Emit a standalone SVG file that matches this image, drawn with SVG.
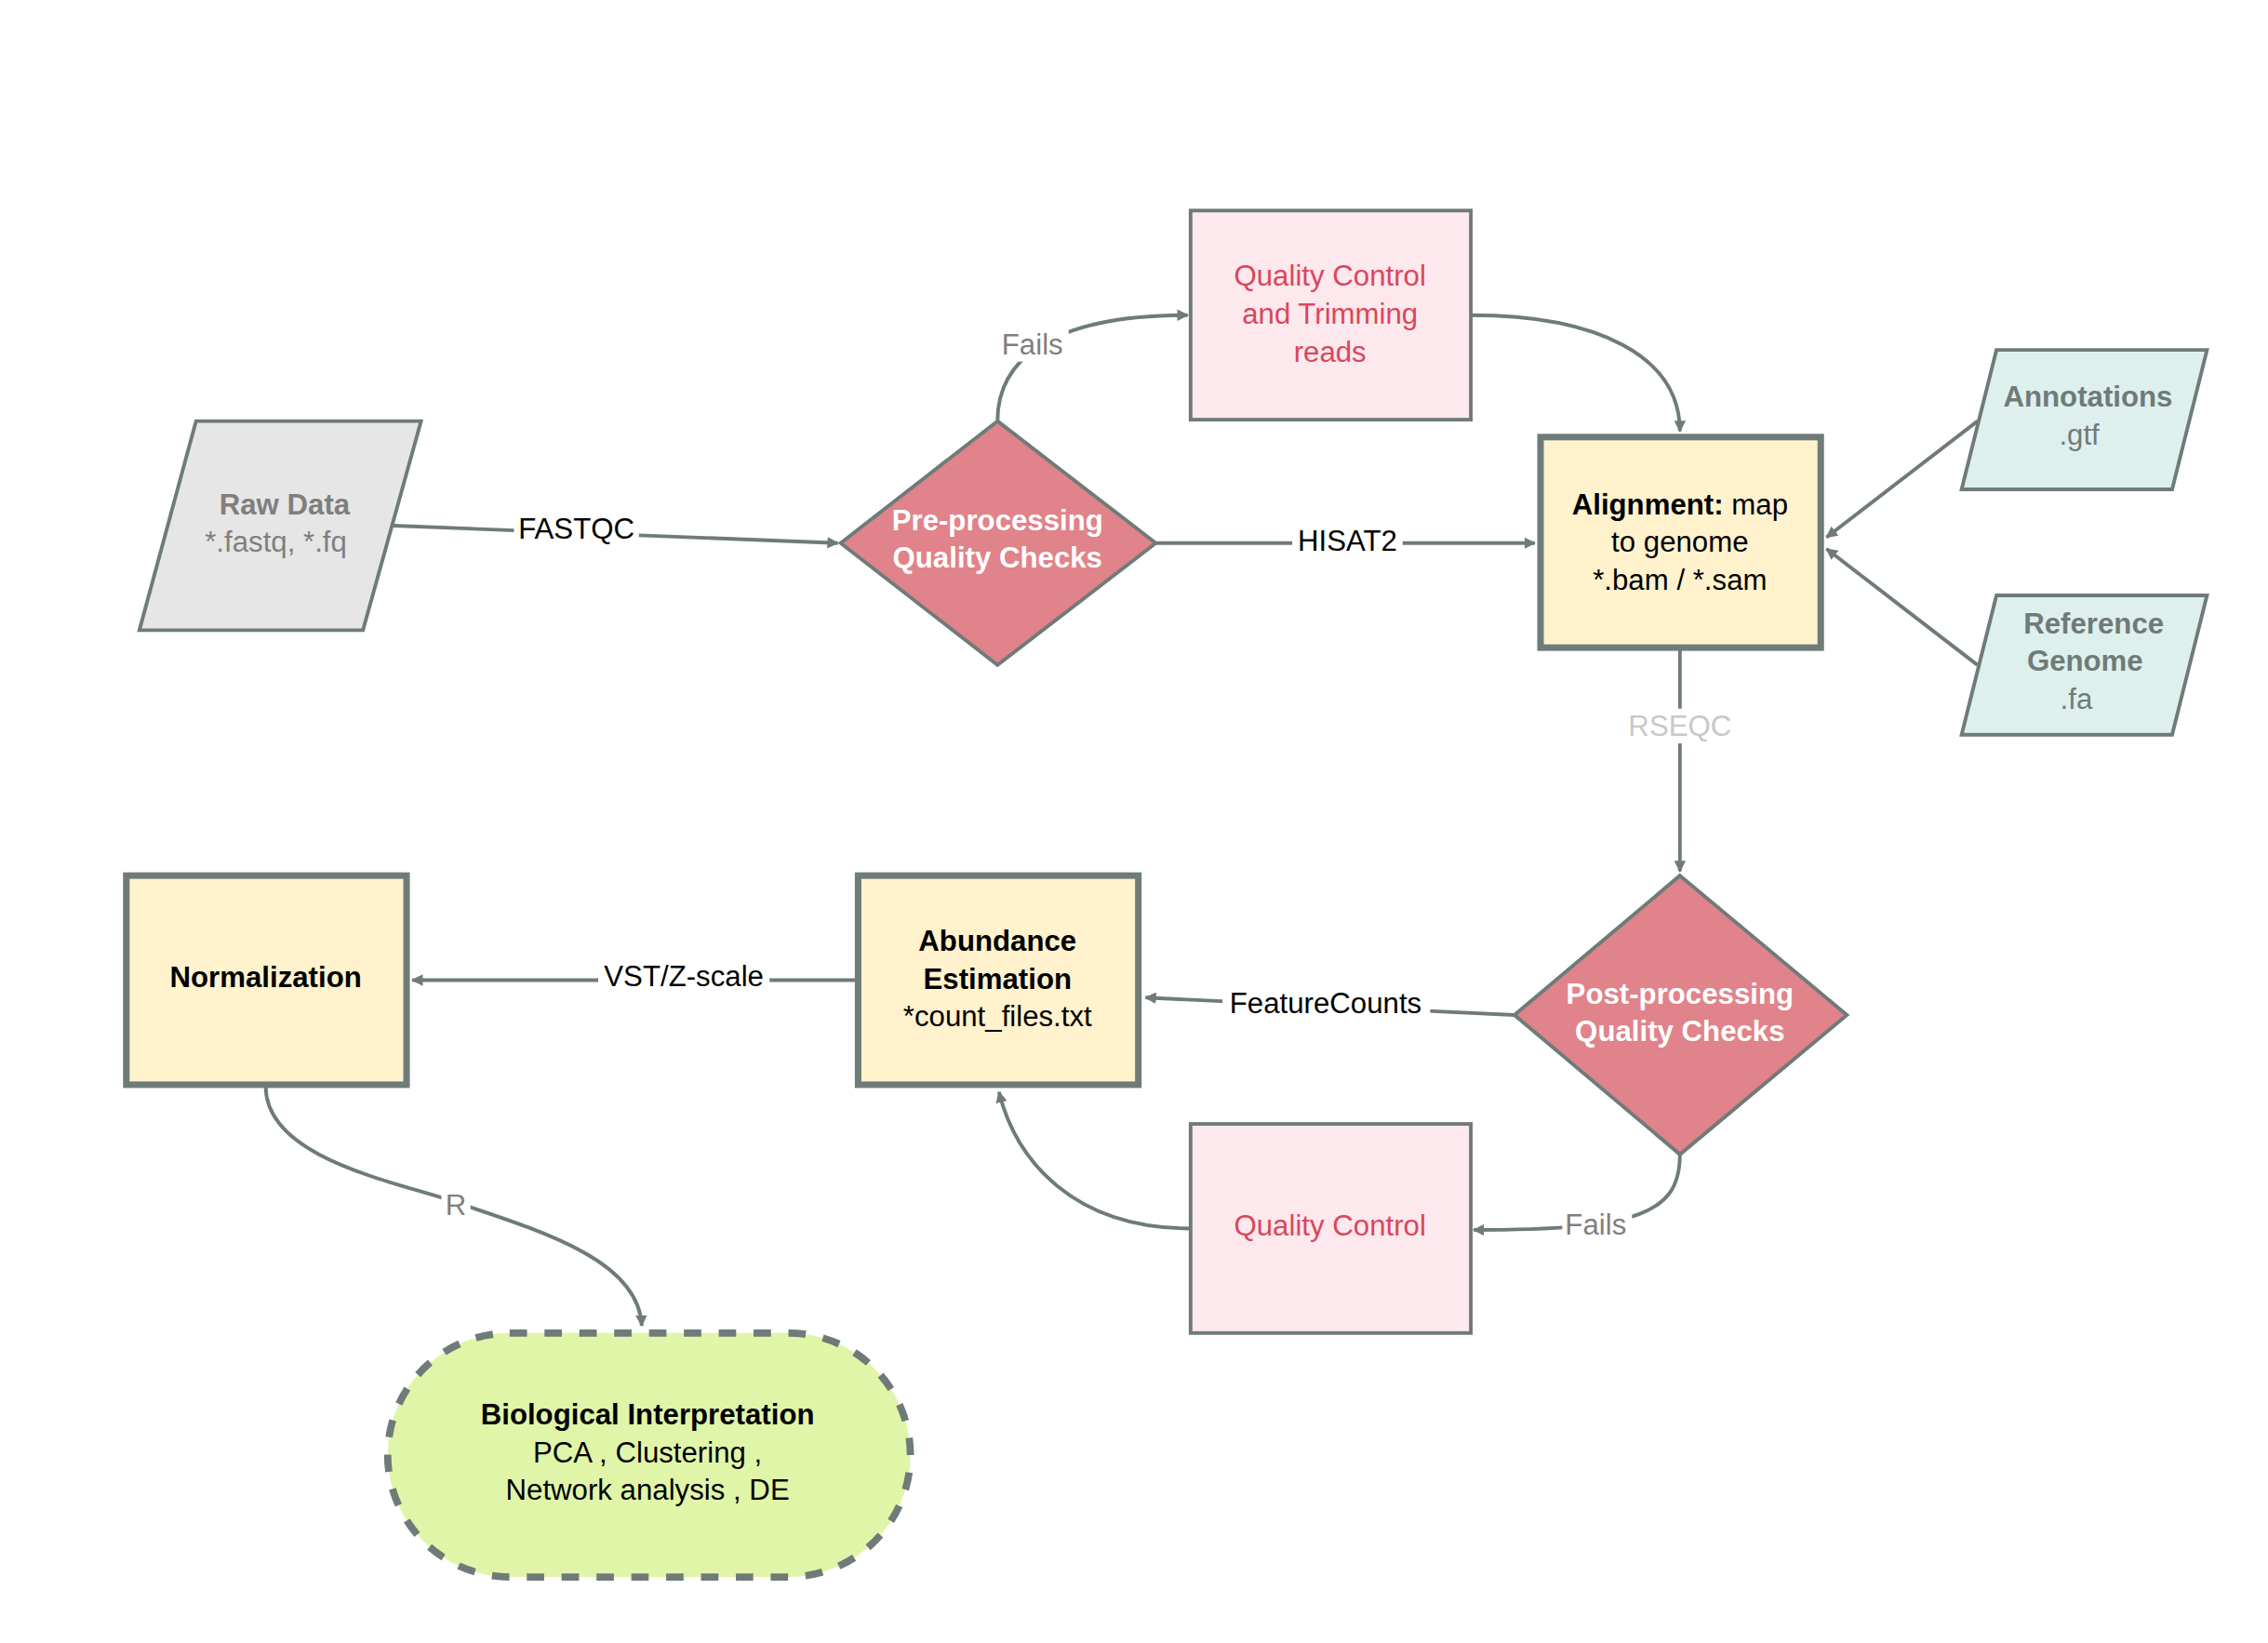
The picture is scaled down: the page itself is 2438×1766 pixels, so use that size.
<svg xmlns="http://www.w3.org/2000/svg" width="2438" height="1766" viewBox="0 0 2438 1766">
<defs>
<marker id="ah" viewBox="0 0 10 10" refX="9" refY="5" markerWidth="8" markerHeight="8" markerUnits="userSpaceOnUse" orient="auto"><path d="M0,0L10,5L0,10z" fill="#6f7b78"/></marker>
<style>
text{font-family:"Liberation Sans",Arial,sans-serif;font-size:20px;text-anchor:middle}
.c{fill:none;stroke:#6f7b78;stroke-width:2.5;marker-end:url(#ah)}
.s{stroke:#6f7b78;stroke-width:2.5}
.t{stroke:#6f7b78;stroke-width:4.5}
.lb{fill:#000}
.b{font-weight:bold}
</style>
</defs>
<rect width="2438" height="1766" fill="#fff"/>
<g transform="scale(1.5608)">
<g id="connectors">
<path class="c" d="M271,362 L577,374"/>
<path class="c" d="M796,374 L1057,374"/>
<path class="c" d="M687,290 C687,250 720,217 818,217"/>
<path class="c" d="M1013,217 C1100,217 1157,245 1157,297"/>
<path class="c" d="M1362,290 L1258,370"/>
<path class="c" d="M1362,458 L1258,378"/>
<path class="c" d="M1157,447 L1157,600"/>
<path class="c" d="M1043,699 L789,687"/>
<path class="c" d="M1157,795 C1157,835 1130,847 1015,847"/>
<path class="c" d="M820,846 C740,846 700,800 688,752"/>
<path class="c" d="M591,675 L284,675"/>
<path class="c" d="M183,748 C183,800 280,815 320,830 C380,850 440,870 442,913"/>
<g>
<rect x="354" y="352" width="86" height="24" fill="#fff"/><text x="397" y="371" class="lb">FASTQC</text>
<rect x="890" y="361" width="76" height="24" fill="#fff"/><text x="928" y="379" class="lb">HISAT2</text>
<rect x="688" y="225" width="48" height="24" fill="#fff"/><text x="711" y="244" fill="#7f7f7f">Fails</text>
<rect x="1117" y="488" width="80" height="24" fill="#fff"/><text x="1157" y="507" fill="#c8c8c8">RSEQC</text>
<rect x="842" y="679" width="143" height="24" fill="#fff"/><text x="913" y="698" class="lb">FeatureCounts</text>
<rect x="1076" y="831" width="48" height="24" fill="#fff"/><text x="1099" y="850" fill="#7f7f7f">Fails</text>
<rect x="412" y="660" width="118" height="24" fill="#fff"/><text x="471" y="679" class="lb">VST/Z-scale</text>
<rect x="304" y="818" width="20" height="24" fill="#fff"/><text x="314" y="837" fill="#7f7f7f">R</text>
</g>
</g>
<g id="raw"><polygon class="s" points="135,290 290,290 250,434 96,434" fill="#e6e6e6"/><text x="196" y="354" fill="#7f7f7f" class="b">Raw Data</text><text x="190" y="380" fill="#7f7f7f">*.fastq, *.fq</text></g>
<g id="pre"><polygon class="s" points="687,290 796,374 687,458 579,374" fill="#e0838a"/><text x="687" y="365" fill="#fff" class="b">Pre-processing</text><text x="687" y="391" fill="#fff" class="b">Quality Checks</text></g>
<g id="qct"><rect class="s" x="820" y="145" width="193" height="144" fill="#fde8ee"/><text x="916" y="197" fill="#d9475a">Quality Control</text><text x="916" y="223" fill="#d9475a">and Trimming</text><text x="916" y="249" fill="#d9475a">reads</text></g>
<g id="align"><rect class="t" x="1061" y="301" width="193" height="145" fill="#fff2cc"/><text x="1157" y="354" class="lb"><tspan class="b">Alignment:</tspan> map</text><text x="1157" y="380" class="lb">to genome</text><text x="1157" y="406" class="lb">*.bam / *.sam</text></g>
<g id="annot"><polygon class="s" points="1375,241 1520,241 1496,337 1351,337" fill="#def0ee"/><text x="1438" y="280" fill="#6f7b78" class="b">Annotations</text><text x="1432" y="306" fill="#6f7b78">.gtf</text></g>
<g id="ref"><polygon class="s" points="1375,410 1520,410 1496,506 1351,506" fill="#def0ee"/><text x="1442" y="436" fill="#6f7b78" class="b">Reference</text><text x="1436" y="462" fill="#6f7b78" class="b">Genome</text><text x="1430" y="488" fill="#6f7b78">.fa</text></g>
<g id="post"><polygon class="s" points="1157,603 1272,699 1157,795 1043,699" fill="#e0838a"/><text x="1157" y="691" fill="#fff" class="b">Post-processing</text><text x="1157" y="717" fill="#fff" class="b">Quality Checks</text></g>
<g id="abund"><rect class="t" x="591" y="603" width="193" height="144" fill="#fff2cc"/><text x="687" y="655" class="lb b">Abundance</text><text x="687" y="681" class="lb b">Estimation</text><text x="687" y="707" class="lb">*count_files.txt</text></g>
<g id="norm"><rect class="t" x="87" y="603" width="193" height="144" fill="#fff2cc"/><text x="183" y="680" class="lb b">Normalization</text></g>
<g id="qc"><rect class="s" x="820" y="774" width="193" height="144" fill="#fde8ee"/><text x="916" y="851" fill="#d9475a">Quality Control</text></g>
<g id="bio"><rect x="267" y="918" width="360" height="168" rx="84" fill="#e0f5a8" stroke="#6f7b78" stroke-width="5" stroke-dasharray="12,12"/><text x="446" y="981" class="lb b">Biological Interpretation</text><text x="446" y="1007" class="lb">PCA , Clustering ,</text><text x="446" y="1033" class="lb">Network analysis , DE</text></g>
</g>
</svg>
